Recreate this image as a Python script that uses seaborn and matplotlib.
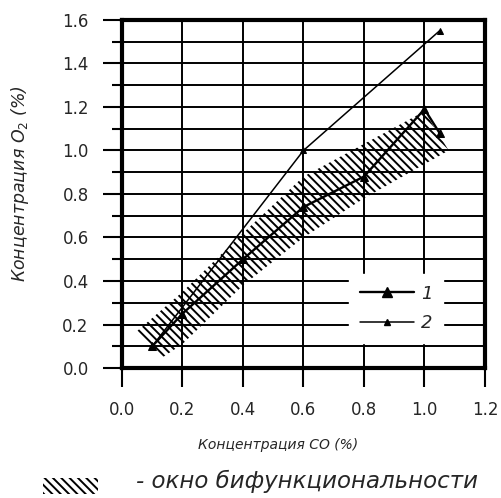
import matplotlib
matplotlib.use("Agg")
import matplotlib.pyplot as plt
from matplotlib.lines import Line2D
from matplotlib.patches import Rectangle
import numpy as np
import pandas as pd
import seaborn as sns

# Кривая 1 (центр окна)
x1 = [0.1, 0.2, 0.4, 0.6, 0.8, 1.0, 1.05]
y1 = [0.1, 0.25, 0.5, 0.74, 0.88, 1.19, 1.08]
# Кривая 2
x2 = [0.1, 0.6, 1.05]
y2 = [0.1, 1.0, 1.55]
# окно бифункциональности: верхняя и нижняя границы
band_up_x = [0.05, 0.2, 0.4, 0.6, 0.8, 1.0]
band_up_y = [0.17, 0.35, 0.62, 0.88, 1.03, 1.18]
band_lo_x = [0.135, 0.2, 0.4, 0.6, 0.8, 1.08]
band_lo_y = [0.05, 0.11, 0.38, 0.6, 0.78, 1.0]

x_ticks = [0.0, 0.2, 0.4, 0.6, 0.8, 1.0, 1.2]
y_ticks = [0.0, 0.2, 0.4, 0.6, 0.8, 1.0, 1.2, 1.4, 1.6]

sns.set_style("white")
plt.rcParams['font.family'] = ['DejaVu Sans']
plt.rcParams['hatch.linewidth'] = 1.4
plt.rcParams['hatch.color'] = 'black'

fig = plt.figure(figsize=(5.01, 4.98), dpi=100)
ax = fig.add_axes([0.2435, 0.261, 0.7245, 0.699])

# полоса (окно): полигон из верхней и нижней границ
poly_x = band_up_x + band_lo_x[::-1]
poly_y = band_up_y + band_lo_y[::-1]
ax.fill(poly_x, poly_y, facecolor='none', edgecolor='black', hatch='\\\\\\\\',
        linewidth=0, zorder=3)

df1 = pd.DataFrame({'x': x1, 'y': y1})
df2 = pd.DataFrame({'x': x2, 'y': y2})
sns.lineplot(data=df1, x='x', y='y', ax=ax, color='black', lw=1.7, marker='^',
             markersize=5.5, markeredgecolor='black', sort=False, zorder=4)
sns.lineplot(data=df2, x='x', y='y', ax=ax, color='black', lw=1.1, marker='^',
             markersize=4.5, markeredgecolor='black', sort=False, zorder=4)

ax.set_xlim(0, 1.2)
ax.set_ylim(0, 1.6)
ax.set_xticks(x_ticks)
ax.set_yticks(y_ticks)
ax.set_yticks(np.arange(0.1, 1.6, 0.2), minor=True)
ax.set_xticklabels([f"{v:.1f}" for v in x_ticks], fontsize=12)
ax.set_yticklabels([f"{v:.1f}" for v in y_ticks], fontsize=12)
ax.tick_params(axis='both', which='major', direction='out', length=14, width=1.5,
               color='black', left=True, bottom=True, pad=10)
ax.tick_params(axis='y', which='minor', direction='out', length=7, width=1.5,
               color='black', left=True)

for v in np.arange(0.1, 1.6, 0.1):
    ax.axhline(v, color='black', lw=1.4, zorder=1)
for v in [0.2, 0.4, 0.6, 0.8, 1.0]:
    ax.axvline(v, color='black', lw=1.4, zorder=1)

for s in ax.spines.values():
    s.set_visible(True)
    s.set_color('black')
    s.set_linewidth(3)

ax.set_xlabel("Концентрация CO (%)", fontsize=10, style='italic')
ax.set_ylabel("Концентрация O$_2$ (%)", fontsize=12.5, style='italic')
ax.xaxis.set_label_coords(0.43, -0.2)
ax.yaxis.set_label_coords(-0.25, 0.53)

handles = [Line2D([], [], color='black', lw=1.7, marker='^', markersize=6.5),
           Line2D([], [], color='black', lw=1.1, marker='^', markersize=4.5)]
leg = ax.legend(handles, ['1', '2'], loc='lower left', bbox_to_anchor=(0.6, 0.045),
                frameon=True, fontsize=13, handlelength=3.0, handletextpad=0.4,
                labelspacing=0.65, borderpad=0.6)
leg.get_frame().set_edgecolor('white')
leg.get_frame().set_facecolor('white')
leg.get_frame().set_alpha(1)
leg.set_zorder(5)
for t in leg.get_texts():
    t.set_style('italic')

# подпись окна под графиком
fig.patches.append(Rectangle((0.086, 0.008), 0.11, 0.032, transform=fig.transFigure,
                             facecolor='none', edgecolor='black', hatch='\\\\\\\\',
                             linewidth=0))
fig.text(0.272, 0.033, "- окно бифункциональности", fontsize=16.5, style='italic',
         va='center', ha='left')

plt.savefig("out.png", dpi=100)
plt.close(fig)
